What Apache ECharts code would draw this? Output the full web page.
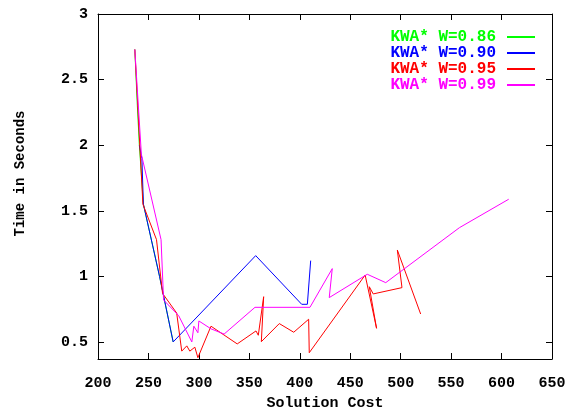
<!DOCTYPE html>
<html>
<head>
<meta charset="utf-8">
<script src="https://cdn.jsdelivr.net/npm/echarts@6/dist/echarts.min.js"></script>
<style>html,body{margin:0;padding:0;background:#fff}#c{width:574px;height:410px}</style>
</head>
<body>
<div id="c"></div>
<script>
const seriesNames = ['KWA* W=0.86', 'KWA* W=0.90', 'KWA* W=0.95', 'KWA* W=0.99'];
const colors = ['#00ff00', '#0000ff', '#ff0000', '#ff00ff'];
const xTicks = [200, 250, 300, 350, 400, 450, 500, 550, 600, 650];
const yTicks = [0.5, 1, 1.5, 2, 2.5, 3];

const w086 = [[236.5,2.73],[239,2.3],[241,2.0],[245,1.55],[261,1.0],[274.5,0.5]];
const w090 = [[241,2.0],[243.5,1.9],[245,1.55],[261,1.0],[274.5,0.5],[356.3,1.158],[401.9,0.787],[407.5,0.787],[410.8,1.12]];
const w095 = [[236.5,2.73],[244.5,1.55],[258,1.28],[264,0.87],[278,0.72],[283,0.43],[288,0.47],[291,0.43],[296,0.46],[299,0.38],[312,0.62],[338,0.485],[356.6,0.584],[358.9,0.551],[364.2,0.845],[361.9,0.502],[379.7,0.640],[394,0.574],[408.8,0.673],[409.4,0.418],[464.8,1.01],[476.1,0.604],[468.9,0.921],[472.8,0.866],[501.3,0.914],[496.7,1.201],[519.8,0.713]];
const w099 = [[236.5,2.73],[243,1.93],[262.5,1.28],[265,0.82],[280,0.7],[293,0.5],[295,0.62],[299,0.57],[300,0.66],[312,0.6],[325,0.56],[355.6,0.764],[410.1,0.764],[432.2,1.059],[429.2,0.838],[466.9,1.016],[485.2,0.952],[558.2,1.371],[607.1,1.588]];
const allData = [w086, w090, w095, w099];

const font = 'Liberation Mono';
const chart = echarts.init(document.getElementById('c'), null, {renderer: 'canvas'});
const axisLine = {show: true, lineStyle: {color: '#000', width: 1}};
const tickStyle = {show: true, inside: true, length: 6, lineStyle: {color: '#000'}};
chart.setOption({
  animation: false,
  backgroundColor: '#fff',
  grid: {left: 98, right: 22, top: 14, bottom: 51, containLabel: false, outerBoundsMode: 'none'},
  legend: {
    orient: 'vertical', right: 39, top: 29, align: 'right', padding: 0,
    itemGap: 0, itemWidth: 28, itemHeight: 2, icon: 'rect',
    data: seriesNames.map((n, i) => ({name: n, itemStyle: {color: colors[i]}, textStyle: {color: colors[i]}})),
    textStyle: {fontFamily: font, fontSize: 16, fontWeight: 'bold', lineHeight: 15.7, padding: [0, 6, 0, 0]}
  },
  xAxis: [{
    type: 'value', min: 200, max: 650, interval: 50,
    name: 'Solution Cost', nameLocation: 'middle', nameGap: 36,
    nameTextStyle: {fontFamily: font, fontSize: 15, fontWeight: 'bold', color: '#000'},
    axisLine: axisLine, axisTick: tickStyle, splitLine: {show: false},
    axisLabel: {fontFamily: font, fontSize: 15, fontWeight: 'bold', color: '#000', margin: 17}
  }, {
    type: 'value', min: 200, max: 650, interval: 50, position: 'top',
    axisLine: axisLine, axisTick: tickStyle, splitLine: {show: false}, axisLabel: {show: false}
  }],
  yAxis: [{
    type: 'value', min: 0.37, max: 3,
    name: 'Time in Seconds', nameLocation: 'middle', nameGap: 71,
    nameTextStyle: {fontFamily: font, fontSize: 14, fontWeight: 'bold', color: '#000', padding: [0, 0, 0, 26]},
    axisLine: axisLine, splitLine: {show: false},
    axisTick: Object.assign({customValues: yTicks}, tickStyle),
    axisLabel: {customValues: yTicks, fontFamily: font, fontSize: 15, fontWeight: 'bold', color: '#000', margin: 10}
  }, {
    type: 'value', min: 0.37, max: 3, position: 'right',
    axisLine: axisLine, splitLine: {show: false},
    axisTick: Object.assign({customValues: yTicks}, tickStyle),
    axisLabel: {show: false}
  }],
  series: allData.map((d, i) => ({
    name: seriesNames[i], type: 'line', data: d, showSymbol: false, symbol: 'none',
    lineStyle: {color: colors[i], width: 1}, itemStyle: {color: colors[i]},
    xAxisIndex: 0, yAxisIndex: 0
  }))
});
</script>
</body>
</html>
